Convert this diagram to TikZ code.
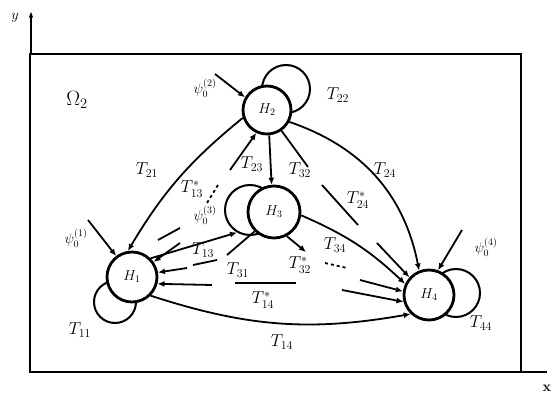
\documentclass[tikz,border=0pt]{standalone}
\usetikzlibrary{arrows.meta}
\begin{document}
\begin{tikzpicture}[x=1pt,y=1pt,
  state/.style={circle,draw,line width=2.8pt,fill=white,inner sep=0pt,font=\Large},
  loopc/.style={circle,draw,line width=2pt,inner sep=0pt},
  conn/.style={line width=1.8pt},
  arr/.style={conn,-{Latex[length=7pt,width=6pt]}},
  lab/.style={font=\LARGE,inner sep=1pt},
  small/.style={font=\Large,inner sep=1pt}]
\useasboundingbox (0,0) rectangle (555,399);
% frame and axes
\coordinate (F1) at (30,27);
\coordinate (F2) at (521,345);
\draw[line width=2.6pt] (F1) rectangle (F2);
\coordinate (YA) at (31,345);
\coordinate (YB) at (31,387);
\coordinate (XA) at (521,27);
\coordinate (XB) at (547,27);
\draw[line width=1.4pt,-{Stealth[length=6pt]}] (YA) -- (YB);
\draw[line width=2pt] (XA) -- (XB);
\node[font=\Large] (ylab) at (15,381) {$y$};
\node[font=\Large] (xlab) at (547,11) {$\mathbf{x}$};
\node[font=\huge] (om) at (77,299) {$\Omega_2$};
% loops
\node[loopc,minimum size=48pt] (L2) at (286,310) {};
\node[loopc,minimum size=50pt] (L3) at (250,189) {};
\node[loopc,minimum size=42pt] (L1) at (115,97) {};
\node[loopc,minimum size=48pt] (L4) at (456,106) {};
% states
\node[state,minimum size=48pt] (H2) at (267,289) {$H_2$};
\node[state,minimum size=52pt] (H3) at (274,187) {$H_3$};
\node[state,minimum size=50pt] (H1) at (132,122) {$H_1$};
\node[state,minimum size=50pt] (H4) at (429,104) {$H_4$};
% initial inputs
\node[small] (psi2) at (205,311) {$\psi_0^{(2)}$};
\coordinate (p2) at (215,325);
\draw[arr] (p2) -- (H2.150);
\node[small] (psi1) at (76,161) {$\psi_0^{(1)}$};
\coordinate (p1) at (88,179);
\draw[arr] (p1) -- (H1.127);
\node[small] (psi4) at (486,152) {$\psi_0^{(4)}$};
\coordinate (p4) at (462,169);
\draw[arr] (p4) -- (H4.70);
\node[small] (psi3) at (205,184) {$\psi_0^{(3)}$};
% long arcs
\draw[arr] (H2.198) to[bend right=10] (H1.99);
\draw[arr] (H2.-28) to[bend left=30] (H4.112);
\draw[arr] (H1.-45) to[bend right=14] (H4.226);
\draw[arr] (H3.-7) to[bend left=10] (H4.155);
\draw[arr] (H1.45) -- (L3.240);
\draw[arr] (H2.-85) -- (H3.95);
% short connectors
\coordinate (a1) at (230,229);
\draw[arr] (a1) -- (H2.245);
\coordinate (c1) at (308,232);
\draw[conn] (H2.-55) -- (c1);
\coordinate (d1) at (218,214);
\coordinate (d2) at (207,196);
\draw[conn,dashed] (d1) -- (d2);
\coordinate (e1) at (158,159);
\coordinate (e2) at (180,171);
\draw[conn] (e1) -- (e2);
\coordinate (s1) at (180,156);
\draw[arr] (s1) -- (H1.35);
\coordinate (s2) at (187,131);
\draw[arr] (s2) -- (H1.10);
\coordinate (s3) at (212,114);
\draw[arr] (s3) -- (H1.-15);
\coordinate (u1) at (193,134);
\coordinate (u2) at (217,139);
\draw[conn] (u1) -- (u2);
\coordinate (b1) at (227,144);
\draw[conn] (H3.225) -- (b1);
\coordinate (b2) at (306,147);
\draw[arr] (H3.-62) -- (b2);
\coordinate (h1) at (235,116);
\coordinate (h2) at (296,116);
\draw[conn] (h1) -- (h2);
\coordinate (g1) at (325,136);
\coordinate (g2) at (347,131);
\draw[conn,dashed] (g1) -- (g2);
\coordinate (k1) at (322,214);
\coordinate (k2) at (358,174);
\draw[conn] (k1) -- (k2);
\coordinate (q1) at (377,156);
\draw[arr] (q1) -- (H4.138);
\coordinate (q2) at (360,119);
\draw[arr] (q2) -- (H4.172);
\coordinate (q3) at (342,109);
\draw[arr] (q3) -- (H4.195);
% labels
\node[lab] (t22) at (338,304) {$T_{22}$};
\node[lab] (t21) at (147,229) {$T_{21}$};
\node[lab] (t24) at (385,229) {$T_{24}$};
\node[lab] (ts24) at (358,199) {$T^{*}_{24}$};
\node[lab] (t34) at (335,154) {$T_{34}$};
\node[lab] (t44) at (481,76) {$T_{44}$};
\node[lab] (t14) at (282,57) {$T_{14}$};
\node[lab] (ts14) at (263,99) {$T^{*}_{14}$};
\node[lab] (ts32) at (300,134) {$T^{*}_{32}$};
\node[lab] (t31) at (238,129) {$T_{31}$};
\node[lab] (t13) at (203,149) {$T_{13}$};
\node[lab] (ts13) at (192,210) {$T^{*}_{13}$};
\node[lab] (t23) at (252,235) {$T_{23}$};
\node[lab] (t32) at (300,229) {$T_{32}$};
\node[lab] (t11) at (80,69) {$T_{11}$};
\end{tikzpicture}
\end{document}
